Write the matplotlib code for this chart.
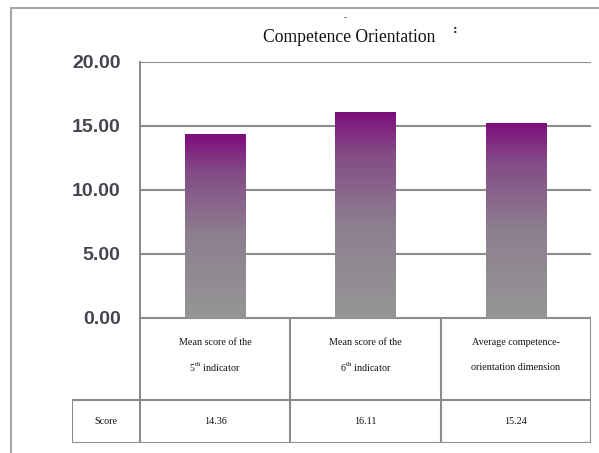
import numpy as np
import matplotlib
matplotlib.use("Agg")
from matplotlib import pyplot as plt
from matplotlib.colors import LinearSegmentedColormap
from matplotlib.patches import Rectangle

# Data
cat_line1 = ["Mean score of the", "Mean score of the", "Average competence-"]
cat_line2 = [r"5$^{\mathrm{th}}$ indicator", r"6$^{\mathrm{th}}$ indicator",
             "orientation dimension"]
scores = [14.36, 16.11, 15.24]
score_labels = ["14.36", "16.11", "15.24"]
yticks = [0, 5, 10, 15, 20]
title = "Competence Orientation"

W, H = 599, 453
fig = plt.figure(figsize=(W / 100, H / 100), dpi=100)
plt.rcParams["mathtext.fontset"] = "custom"
plt.rcParams["mathtext.rm"] = "Liberation Serif"

def fx(px):
    return px / W

def fy(py):
    return 1 - py / H

frame_col = "#a6a6a6"
line_col = "#8c8c8c"

# outer frame (runs off the right/bottom edge)
fig.add_artist(Rectangle((fx(11), fy(470)), fx(620) - fx(11), fy(8) - fy(470),
                         transform=fig.transFigure, fill=False,
                         edgecolor=frame_col, linewidth=1.5))

# main plot area
left, right, top, bottom = 140, 591, 62, 318
ax = fig.add_axes([fx(left), fy(bottom), fx(right) - fx(left), fy(top) - fy(bottom)])
for s in ["top", "right", "bottom"]:
    ax.spines[s].set_visible(False)
ax.spines["left"].set_color(line_col)
ax.spines["left"].set_linewidth(1.5)
ax.set_xticks([])
ax.set_yticks(yticks)
ax.set_yticklabels([f"{v:.2f}" for v in yticks], fontsize=14, fontweight="bold",
                   color="#44444f", family="Liberation Sans")
ax.tick_params(axis="y", length=0, pad=14)
ax.yaxis.grid(True, color=line_col, linewidth=1.5)
ax.set_axisbelow(True)

# purple-to-grey vertical gradient inside each bar
cmap = LinearSegmentedColormap.from_list(
    "pg", [(0, "#969696"), (0.45, "#8d7f8f"), (0.8, "#844a86"), (1, "#7d0c7d")])
grad = np.linspace(0, 1, 256).reshape(-1, 1)
x = np.arange(len(scores))
bars = ax.bar(x, scores, width=0.4, color="none", zorder=3)
for b in bars:
    x0 = b.get_x()
    im = ax.imshow(grad, extent=[x0, x0 + b.get_width(), 0, b.get_height()],
                   origin="lower", cmap=cmap, aspect="auto", zorder=3)
    im.set_clip_path(b)
ax.set_xlim(-0.5, 2.5)
ax.set_ylim(0, 20)

fig.text(fx(349), fy(38), title, ha="center", va="center", fontsize=12.7,
         family="Liberation Serif", color="#111111")
# stray marks in the original scan
fig.text(fx(345), fy(18), "-", ha="center", va="center", fontsize=6, color="#333333")
fig.text(fx(455), fy(30), ":", ha="center", va="center", fontsize=8,
         fontweight="bold", color="#333333")

# data table under the chart
tx = fig.add_axes([fx(72), fy(443), fx(591) - fx(72), fy(318) - fy(443)])
col_w = (right - left) / 3
x_left = -0.5 - (left - 72) / col_w
tx.set_xlim(x_left, 2.5)
tx.set_ylim(443, 318)
tx.axis("off")
kw = dict(color=line_col, linewidth=1.5, solid_capstyle="projecting")
for cx in [-0.5, 0.5, 1.5, 2.5]:
    tx.plot([cx, cx], [318, 443], **kw)
tx.plot([x_left, x_left], [400, 443], **kw)
tx.plot([-0.5, 2.5], [318, 318], **kw)
tx.plot([x_left, 2.5], [400, 400], **kw)
tx.plot([x_left, 2.5], [443, 443], **kw)

tfont = dict(family="Liberation Serif", fontsize=7.3, color="#111111", ha="center")
for i in range(len(scores)):
    tx.text(i, 342, cat_line1[i], va="center", **tfont)
    tx.text(i, 367, cat_line2[i], va="center", **tfont)
    tx.text(i, 421, score_labels[i], va="center", **tfont)
tx.text((x_left - 0.5) / 2, 421, "Score", va="center", **tfont)

fig.savefig("out.png", dpi=100)
